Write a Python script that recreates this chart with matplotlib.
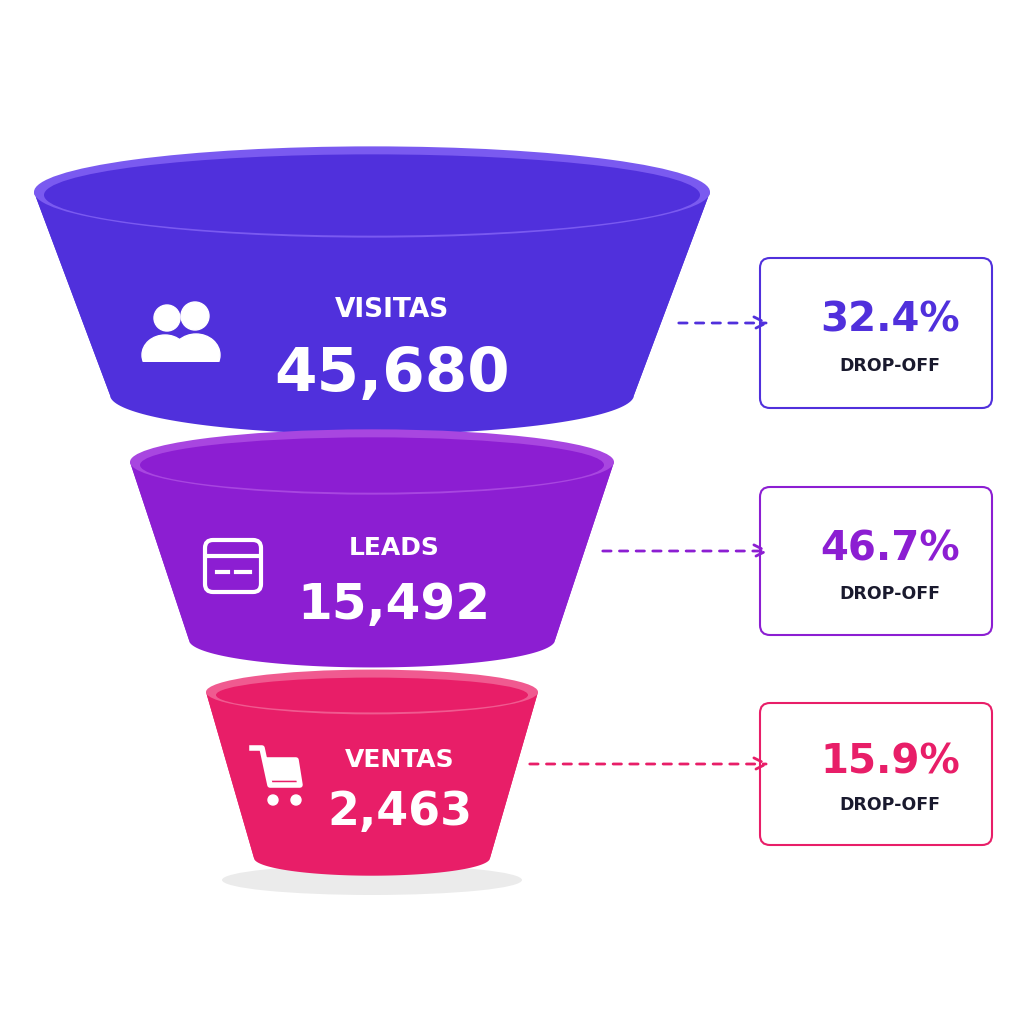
import numpy as np
import matplotlib
matplotlib.use("Agg")
import matplotlib.pyplot as plt
from matplotlib.patches import Polygon, Ellipse, FancyBboxPatch, Circle

stages = ["VISITAS", "LEADS", "VENTAS"]
values = [45680, 15492, 2463]
dropoffs = [32.4, 46.7, 15.9]
colors = ["#5030dc", "#8c1ed2", "#e81e68"]
tops = ["#7a5af0", "#a846e0", "#f05a90"]

cx = 372
geo = [  # top_y, top_hw, bot_y, bot_hw
    (192, 338, 395, 262),
    (462, 242, 640, 183),
    (692, 166, 858, 118),
]
label_pos = [(392, 310, 375), (394, 548, 605), (400, 760, 813)]
label_sizes = [(19, 44), (18, 36), (18, 33)]

fig = plt.figure(figsize=(10.24, 10.24), dpi=100)
ax = fig.add_axes([0, 0, 1, 1])
ax.set_xlim(0, 1024); ax.set_ylim(1024, 0); ax.axis("off")
fig.patch.set_facecolor("white")

ax.add_patch(Ellipse((cx, 880), 300, 30, color="#000000", alpha=0.08, lw=0))

t = np.linspace(0, np.pi, 100)
boxes = [(760, 258, 232, 150), (760, 487, 232, 148), (760, 703, 232, 142)]
for i, (ty, thw, by, bhw) in enumerate(geo):
    tvh = thw * 0.135; bvh = bhw * 0.15
    top_front = [(cx - thw * np.cos(a), ty + tvh * np.sin(a)) for a in t]
    bot_front = [(cx + bhw * np.cos(a), by + bvh * np.sin(a)) for a in t]
    ax.add_patch(Polygon(top_front + bot_front, closed=True, color=colors[i], lw=0))
    ax.add_patch(Polygon([(cx - thw, ty), (cx + thw, ty), (cx + bhw, by), (cx - bhw, by)], color=colors[i], lw=0))
    ax.add_patch(Ellipse((cx, ty), 2 * thw, 2 * tvh, color=tops[i], lw=0))
    ax.add_patch(Ellipse((cx, ty + 3), 2 * thw - 20, 2 * tvh - 10, color=colors[i], lw=0))
    lx, ly1, ly2 = label_pos[i]
    ax.text(lx, ly1, stages[i], color="white", fontsize=label_sizes[i][0], fontweight="bold", ha="center", va="center")
    ax.text(lx, ly2, f"{values[i]:,}", color="white", fontsize=label_sizes[i][1], fontweight="bold", ha="center", va="center")
    bx, byy, bw, bh = boxes[i]
    ax.add_patch(FancyBboxPatch((bx, byy), bw, bh, boxstyle="round,pad=0,rounding_size=10", fc="white", ec=colors[i], lw=1.5))
    ax.text(bx + bw / 2 + 14, byy + bh * 0.42, f"{dropoffs[i]}%", color=colors[i], fontsize=29, fontweight="bold", ha="center", va="center")
    ax.text(bx + bw / 2 + 14, byy + bh * 0.72, "DROP-OFF", color="#1a1a2e", fontsize=12.5, fontweight="bold", ha="center", va="center")
    ay = byy + bh / 2 - 10
    ax.annotate("", xy=(772, ay), xytext=([676, 600, 527][i], ay),
                arrowprops=dict(arrowstyle="->", color=colors[i], lw=2, linestyle=(0, (3, 3)), mutation_scale=22))

# icons
ax.add_patch(Circle((167, 318), 13, color="white")); ax.add_patch(Circle((195, 316), 14, color="white"))
ax.add_patch(Ellipse((165, 355), 46, 40, color="white")); ax.add_patch(Ellipse((196, 355), 48, 42, color="white"))
ax.add_patch(Polygon([(130, 362), (230, 362), (230, 380), (130, 380)], color=colors[0], lw=0))
ax.add_patch(FancyBboxPatch((205, 540), 56, 52, boxstyle="round,pad=0,rounding_size=8", fc="none", ec="white", lw=3))
ax.plot([207, 259], [556, 556], color="white", lw=3)
ax.plot([217, 228], [572, 572], color="white", lw=3); ax.plot([236, 250], [572, 572], color="white", lw=3)
ax.plot([252, 262, 270, 300, 296, 268], [748, 748, 785, 785, 760, 760], color="white", lw=4, solid_joinstyle="round")
ax.add_patch(Polygon([(264, 760), (296, 760), (300, 780), (269, 780)], color="white"))
ax.add_patch(Circle((273, 800), 5, color="white")); ax.add_patch(Circle((296, 800), 5, color="white"))

fig.savefig("out.png", dpi=100)
